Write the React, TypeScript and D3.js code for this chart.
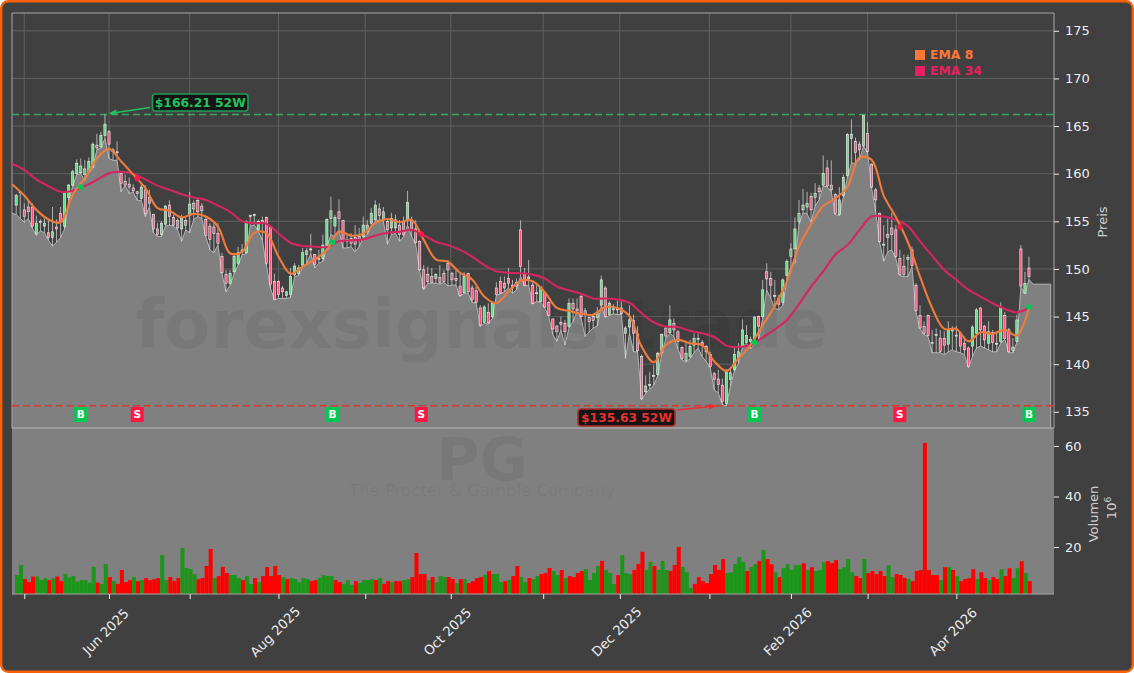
import { useEffect, useRef } from "react";
import * as d3 from "d3";

// daily bars (bar 0 = end of Apr 2025)
const opens = [
  156.7, 158.0, 156.2, 156.5, 156.5, 153.7, 154.9, 154.5, 153.8, 153.3,
  154.4, 155.8, 154.5, 157.5, 158.8, 160.0, 160.1, 159.9, 160.2, 160.7,
  163.0, 162.8, 164.0, 164.4, 162.5, 162.3, 160.0, 159.2, 158.9, 158.5,
  158.1, 157.4, 158.3, 157.5, 155.7, 154.2, 153.6, 154.7, 156.7, 155.4,
  155.1, 154.2, 155.1, 155.6, 156.9, 157.2, 156.6, 155.2, 154.5, 154.4,
  153.7, 151.3, 149.4, 148.5, 149.7, 150.6, 152.0, 151.7, 155.5, 155.6,
  154.1, 155.1, 155.4, 154.4, 148.7, 148.7, 148.0, 147.2, 147.3, 149.4,
  149.5, 150.4, 151.5, 152.0, 151.5, 151.1, 151.1, 152.4, 155.3, 154.5,
  156.0, 155.1, 153.1, 153.2, 153.3, 153.4, 153.4, 153.9, 154.8, 155.15,
  156.3, 155.15, 155.0, 154.3, 154.3, 154.6, 155.0, 155.2, 155.15, 154.2,
  152.9, 149.9, 149.4, 149.2, 149.0, 149.1, 149.5, 150.6, 149.55, 149.0,
  148.2, 147.5, 149.5, 148.0, 147.7, 145.9, 144.4, 145.45, 145.0, 148.0,
  148.7, 148.5, 149.0, 148.3, 148.6, 154.1, 149.55, 149.0, 148.3, 147.5,
  146.6, 147.5, 146.5, 144.75, 144.0, 144.4, 144.3, 143.95, 146.4, 145.8,
  147.1, 145.6, 144.9, 145.0, 144.9, 146.2, 148.0, 145.2, 145.7, 145.7,
  145.9, 143.25, 143.9, 144.6, 143.2, 140.8, 137.1, 137.8, 138.8, 138.9,
  141.2, 143.8, 143.3, 144.3, 143.4, 141.75, 140.4, 140.8, 142.0, 142.6,
  142.3, 141.85, 141.0, 139.0, 138.45, 137.8, 135.9, 138.4, 139.4, 140.6,
  141.9, 142.3, 142.4, 142.7, 145.0, 145.0, 149.7, 149.0, 147.1, 146.95,
  146.5, 149.3, 151.3, 152.1, 155.0, 156.2, 156.5, 157.6, 157.5, 158.5,
  158.8, 160.6, 158.8, 157.8, 155.7, 157.7, 159.8, 163.7, 163.4, 163.1,
  162.9, 164.2, 161.0, 158.3, 155.85, 152.6, 153.6, 154.3, 154.1, 151.1,
  150.25, 151.0, 152.0, 148.3, 145.1, 143.95, 145.1, 142.3, 143.0, 142.7,
  142.7, 142.1, 143.6, 143.0, 143.25, 142.2, 141.7, 141.9, 143.25, 145.9,
  144.0, 142.2, 143.3, 142.1, 142.4, 145.1, 143.6, 141.45, 142.4, 152.1,
  147.45, 150.1,
];
const closes = [
  157.7, 158.1, 155.5, 156.0, 154.5, 154.8, 155.0, 154.8, 153.3, 153.9,
  154.2, 154.9, 158.0, 158.8, 160.2, 161.1, 160.8, 160.5, 161.3, 163.1,
  162.7, 164.0, 165.2, 163.1, 162.3, 162.2, 159.0, 158.8, 158.6, 158.2,
  157.9, 158.6, 155.8, 156.9, 154.2, 153.6, 154.8, 156.6, 155.5, 154.6,
  154.3, 155.3, 154.6, 156.8, 156.3, 156.0, 156.1, 153.5, 153.1, 153.7,
  152.7, 149.6, 148.5, 149.5, 151.3, 151.7, 151.8, 155.0, 155.6, 155.7,
  155.0, 154.8, 150.6, 148.4, 146.8, 147.3, 147.6, 147.6, 149.2, 150.3,
  150.1, 151.7, 151.9, 152.1, 150.5, 151.0, 152.5, 155.2, 156.1, 155.4,
  155.3, 153.0, 152.9, 152.7, 152.6, 153.0, 154.6, 154.6, 155.85, 156.7,
  155.6, 156.0, 154.1, 155.3, 155.15, 153.6, 153.6, 157.0, 154.1, 152.8,
  149.9, 148.0, 148.7, 148.6, 149.4, 148.6, 148.7, 149.9, 148.85, 148.8,
  147.2, 149.2, 147.6, 146.8, 146.5, 144.1, 146.0, 144.35, 146.4, 147.3,
  147.45, 148.0, 148.5, 148.0, 148.2, 150.25, 148.3, 149.15, 146.4, 147.4,
  148.1, 146.0, 145.1, 143.7, 143.4, 144.2, 143.4, 146.4, 145.8, 145.6,
  145.0, 145.2, 144.5, 144.6, 145.4, 148.85, 145.0, 146.4, 146.0, 145.8,
  145.3, 143.8, 144.65, 143.25, 141.4, 136.4, 137.7, 137.85, 138.7, 141.15,
  143.1, 142.95, 144.65, 143.6, 142.4, 140.6, 141.15, 141.85, 142.7, 142.7,
  142.0, 141.3, 139.75, 138.4, 137.85, 136.1, 139.2, 139.1, 141.0, 141.3,
  143.6, 143.0, 142.6, 144.95, 144.0, 147.8, 148.95, 148.3, 147.2, 146.3,
  148.85, 150.8, 152.1, 154.2, 155.8, 156.7, 156.9, 156.2, 157.9, 158.1,
  160.0, 158.7, 158.3, 155.8, 157.25, 159.6, 164.1, 164.15, 162.25, 162.5,
  166.1, 162.3, 158.6, 157.25, 152.9, 152.5, 153.3, 153.6, 151.3, 149.4,
  149.4, 151.2, 150.35, 145.65, 143.8, 143.25, 143.0, 142.2, 143.1, 141.35,
  142.0, 143.6, 143.5, 143.05, 141.9, 141.5, 139.75, 143.9, 145.7, 143.6,
  142.55, 143.4, 142.3, 142.2, 145.9, 142.7, 141.3, 141.8, 144.65, 148.2,
  148.45, 149.2,
];
const highs = [
  157.9, 158.2, 156.9, 157.2, 156.9, 155.6, 155.2, 155.3, 155.2, 156.5,
  155.2, 156.5, 158.1, 158.9, 160.4, 161.5, 161.6, 161.4, 161.7, 163.3,
  164.2, 164.4, 166.21, 164.6, 162.7, 163.4, 160.05, 159.9, 159.6, 158.9,
  158.2, 158.9, 158.8, 158.3, 155.8, 154.8, 155.0, 156.7, 157.2, 155.7,
  155.3, 155.7, 155.3, 158.1, 157.2, 157.4, 156.9, 155.5, 154.8, 154.8,
  154.8, 151.7, 149.9, 149.9, 151.7, 152.3, 152.6, 155.1, 155.7, 155.8,
  155.2, 155.5, 155.5, 154.6, 149.5, 148.8, 148.2, 147.7, 150.1, 150.6,
  150.4, 152.2, 152.2, 153.7, 151.5, 152.0, 153.6, 155.3, 157.6, 155.7,
  157.3, 155.15, 153.6, 153.75, 154.6, 154.3, 155.5, 155.15, 156.4, 157.2,
  156.9, 156.5, 155.15, 155.9, 155.7, 155.15, 155.5, 158.2, 155.5, 155.1,
  153.0, 150.4, 150.25, 150.1, 149.55, 150.4, 149.9, 150.95, 149.7, 150.1,
  149.55, 149.7, 149.6, 148.3, 148.15, 146.2, 146.2, 146.4, 146.6, 148.6,
  149.2, 149.2, 150.1, 148.85, 149.0, 155.1, 150.1, 150.95, 148.7, 148.3,
  148.2, 147.6, 146.6, 144.8, 144.1, 145.0, 144.65, 146.9, 146.9, 146.9,
  147.3, 145.9, 145.0, 145.3, 146.0, 149.3, 148.2, 146.6, 146.3, 146.7,
  146.6, 144.0, 146.2, 145.2, 144.0, 141.0, 138.8, 139.2, 139.9, 141.3,
  143.25, 144.0, 146.2, 144.8, 143.6, 141.85, 142.2, 142.55, 143.25, 143.25,
  142.55, 142.0, 141.3, 139.2, 139.4, 138.5, 139.5, 139.5, 141.85, 142.2,
  144.7, 144.1, 142.9, 145.0, 145.1, 148.85, 150.6, 149.7, 148.85, 147.3,
  149.0, 151.0, 152.7, 155.4, 157.25, 158.4, 158.1, 158.0, 159.0, 158.8,
  161.9, 161.45, 161.4, 157.95, 158.6, 159.9, 164.25, 165.7, 163.8, 163.4,
  166.1, 165.4, 161.1, 158.5, 155.9, 154.6, 155.3, 155.9, 154.6, 152.0,
  151.5, 151.5, 152.35, 148.5, 146.2, 144.5, 145.2, 143.6, 143.75, 143.6,
  143.45, 144.5, 144.0, 144.0, 143.45, 142.9, 141.85, 144.1, 145.9, 146.0,
  144.1, 144.5, 143.6, 143.4, 146.5, 145.5, 143.8, 142.75, 145.2, 152.5,
  149.7, 151.3,
];
const lows = [
  155.7, 155.3, 154.9, 155.3, 154.3, 153.5, 154.0, 153.8, 153.0, 152.4,
  152.8, 153.3, 154.2, 157.2, 158.7, 159.9, 160.0, 159.3, 160.1, 160.6,
  162.5, 162.7, 163.7, 161.6, 161.4, 161.4, 158.1, 158.8, 157.9, 158.1,
  157.2, 157.2, 155.5, 156.5, 153.8, 153.4, 153.4, 154.5, 154.6, 154.5,
  154.1, 152.9, 154.1, 153.8, 155.2, 155.5, 155.3, 153.4, 152.0, 151.7,
  152.5, 149.5, 147.6, 148.3, 149.5, 150.4, 151.5, 151.6, 154.5, 154.6,
  154.0, 153.0, 150.4, 148.0, 146.75, 146.9, 146.9, 146.9, 147.0, 149.2,
  149.3, 150.2, 150.6, 151.6, 150.1, 150.6, 150.8, 152.35, 153.6, 153.4,
  154.1, 152.2, 152.2, 152.35, 151.8, 152.35, 153.3, 153.6, 154.45, 155.0,
  155.15, 155.0, 152.6, 153.6, 153.75, 152.9, 153.4, 154.6, 153.4, 152.6,
  149.8, 147.8, 148.5, 148.5, 148.5, 148.4, 148.6, 148.2, 148.3, 148.3,
  147.1, 147.45, 147.45, 146.5, 146.4, 143.95, 144.3, 144.2, 144.8, 147.2,
  147.4, 147.6, 148.0, 147.45, 147.8, 149.2, 148.2, 148.3, 146.3, 146.6,
  146.5, 145.9, 145.0, 143.1, 142.4, 143.6, 142.0, 143.8, 144.5, 145.5,
  144.8, 142.9, 143.4, 143.8, 144.0, 146.1, 144.9, 145.1, 145.3, 145.2,
  145.2, 140.6, 143.25, 141.3, 141.3, 136.25, 136.95, 137.4, 137.8, 138.8,
  141.1, 142.7, 143.25, 142.9, 141.6, 140.45, 140.2, 140.6, 141.2, 141.7,
  140.8, 140.3, 139.6, 137.3, 137.0, 135.75, 135.63, 137.7, 139.3, 140.1,
  141.85, 142.2, 141.6, 142.2, 142.55, 144.8, 147.8, 146.9, 145.9, 145.7,
  146.2, 148.8, 150.25, 150.6, 154.7, 155.9, 155.8, 154.9, 156.6, 157.3,
  158.7, 158.6, 158.1, 155.7, 155.6, 157.5, 159.6, 161.1, 161.1, 161.5,
  162.9, 162.2, 158.5, 156.0, 152.75, 150.8, 151.8, 152.0, 151.1, 149.3,
  149.2, 149.2, 150.2, 145.5, 143.7, 143.1, 142.9, 141.2, 141.2, 141.2,
  141.0, 141.3, 141.5, 141.3, 141.2, 141.0, 139.65, 140.8, 141.7, 141.9,
  141.7, 141.5, 141.3, 141.3, 142.2, 142.6, 141.2, 141.2, 142.3, 148.1,
  147.4, 148.9,
];

// in millions
const volumes = [
  8.9, 12.9, 7.3, 6.1, 8.3, 8.3, 6.9, 7.6, 6.9, 7.6,
  8.3, 6.5, 9.3, 7.9, 8.5, 6.3, 6.9, 6.9, 5.9, 12.1,
  5.9, 5.4, 13.3, 8.1, 6.5, 5.4, 10.9, 6.1, 6.9, 8.1,
  6.5, 6.9, 7.7, 6.9, 7.3, 7.7, 16.8, 6.9, 8.1, 6.5,
  7.7, 19.6, 11.7, 11.3, 9.3, 7.3, 7.7, 12.5, 19.2, 7.7,
  8.5, 12.1, 9.7, 8.9, 8.9, 7.7, 6.9, 8.5, 5.4, 7.7,
  6.1, 8.5, 12.1, 8.5, 12.5, 8.9, 8.1, 7.3, 7.7, 7.3,
  6.1, 7.7, 7.3, 6.5, 6.9, 7.7, 8.9, 8.5, 8.5, 6.9,
  6.1, 5.4, 6.9, 5.0, 6.5, 5.7, 6.9, 6.9, 7.3, 6.9,
  7.7, 5.4, 6.5, 6.1, 6.5, 6.5, 6.9, 7.2, 8.1, 17.6,
  9.3, 9.3, 6.9, 8.1, 6.1, 8.5, 8.1, 8.1, 7.3, 5.7,
  7.3, 7.3, 5.7, 6.5, 7.7, 8.1, 8.9, 10.5, 9.3, 9.3,
  6.1, 6.5, 6.9, 8.5, 12.5, 8.1, 6.1, 7.7, 7.3, 8.5,
  9.3, 9.7, 11.7, 10.5, 8.9, 10.9, 7.7, 8.5, 8.1, 9.7,
  10.5, 11.3, 6.9, 9.7, 12.5, 14.5, 10.9, 9.7, 5.4, 8.9,
  16.8, 9.7, 9.2, 10.9, 13.3, 18.1, 10.9, 14.1, 12.5, 10.9,
  14.5, 10.9, 10.5, 12.9, 20.0, 12.1, 10.0, 3.8, 5.4, 8.1,
  6.5, 5.7, 9.3, 12.9, 10.9, 15.2, 9.7, 10.0, 13.3, 16.0,
  14.1, 10.5, 12.1, 13.3, 14.5, 18.8, 15.2, 13.2, 10.0, 8.1,
  11.6, 13.2, 10.9, 12.8, 12.8, 13.6, 10.9, 12.0, 10.5, 10.9,
  14.0, 14.4, 13.6, 14.8, 11.2, 12.0, 15.2, 10.0, 8.5, 7.7,
  15.2, 9.7, 10.5, 9.3, 10.5, 8.5, 12.8, 8.1, 9.3, 8.9,
  7.7, 7.3, 6.5, 10.5, 10.9, 61.2, 10.9, 8.9, 8.9, 6.9,
  12.0, 12.0, 10.9, 8.5, 6.5, 7.3, 7.7, 11.2, 7.3, 10.0,
  7.7, 6.9, 8.1, 7.3, 11.2, 8.5, 11.6, 7.7, 11.6, 14.4,
  9.7, 6.5,
];
const volumeSides = [
  "GGRRRGGGRG", "RRGGGGGGGG", "RGGRGRRRRG", "RGRRRRGGRR", "RGGGGRRRRG",
  "RRRGGGRGGR", "GRRRRRGRGG", "GGGRRGGGGR", "RGGGRGGGGR", "GRRGRRGGRR",
  "RRGRGGGRRG", "RGRRRRGRGG", "GRGRRGGRGG", "RRRGGRGRRR", "RGGGGRGGGR",
  "GGGRRRGGRG", "GGRRRGGGRR", "RRRRRRGGGG", "GRGGRGRRGR", "GGGGGRGRGG",
  "GRRRGGGGRR", "GRRRRRGGRR", "RGRRRRRRRG", "RGRGRRRRGR", "RGRRGRRGGR",
  "GR",
].join("");

// EMAs read every third bar, starting one bar left of the first candle
const emaStart = -1;
const emaStep = 3;
const ema8 = [
  158.9, 157.7, 156.2, 155.2, 154.9, 157.8, 159.5, 161.6, 162.6, 161.3,
  159.9, 158.5, 156.4, 156.1, 155.4, 155.8, 155.5, 154.45, 151.65, 151.8,
  153.8, 153.75, 151.3, 149.5, 150.25, 151.0, 152.0, 153.9, 153.5, 153.7,
  154.8, 155.25, 154.9, 155.15, 153.05, 151.0, 150.75, 149.6, 148.9, 147.1,
  146.4, 147.6, 148.75, 148.7, 147.55, 145.9, 145.6, 145.3, 145.2, 146.0,
  145.9, 145.05, 141.85, 140.2, 142.0, 142.55, 142.2, 142.0, 140.3, 139.3,
  140.6, 142.0, 144.1, 146.1, 148.7, 152.35, 154.7, 156.6, 157.4, 158.6,
  161.7, 161.45, 157.7, 155.45, 152.8, 149.2, 145.9, 143.7, 143.7, 142.4,
  143.35, 143.2, 143.6, 143.0, 145.9,
];
const ema34 = [
  161.05, 160.4, 159.4, 158.7, 158.1, 158.2, 158.7, 159.35, 160.05, 160.2,
  160.0, 159.4, 158.75, 158.3, 157.85, 157.5, 157.25, 156.65, 156.0, 155.0,
  154.8, 154.75, 153.75, 152.75, 152.4, 152.35, 152.3, 152.9, 153.0, 153.1,
  153.5, 153.8, 153.9, 154.1, 153.55, 152.85, 152.5, 152.0, 151.3, 150.4,
  149.75, 149.6, 149.55, 149.4, 149.0, 148.15, 147.75, 147.4, 146.9, 146.9,
  146.8, 146.45, 145.35, 144.4, 143.95, 143.9, 143.5, 143.25, 142.85, 141.95,
  141.8, 142.05, 142.8, 143.65, 144.65, 146.3, 148.15, 149.75, 151.5, 152.5,
  154.1, 155.5, 155.5, 155.15, 154.5, 152.9, 151.4, 149.9, 148.85, 147.8,
  147.1, 146.4, 145.8, 145.45, 145.9,
];

const signalBars = [16, 30, 78.4, 100.4, 183, 219, 251];
const signalKinds = ["B", "S", "B", "S", "B", "S", "B"];
const signalPrices = [158.6, 159.5, 152.8, 153.65, 142.3, 154.4, 146.0];

const priceTicks = [135, 140, 145, 150, 155, 160, 165, 170, 175];
const volumeTicks = [20, 40, 60];
const monthBars = [2, 23, 43, 65, 86.5, 107.7, 130.6, 149.6, 171.8, 192, 211, 233];
const monthLabels = ["", "Jun 2025", "", "Aug 2025", "", "Oct 2025", "", "Dec 2025", "", "Feb 2026", "", "Apr 2026"];

const high52 = 166.21;
const low52 = 135.63;
// flat stretch of the area past the last candle
const areaTailPrice = 148.4;
const areaTailBar = 256.4;

const GREEN = "#00c853";
const RED = "#ff1744";
const FONT = "'DejaVu Sans', sans-serif";

export default function App() {
  const ref = useRef<SVGSVGElement>(null);

  useEffect(() => {
    const svg = d3.select(ref.current);
    svg.selectAll("*").remove();

    const left = 12;
    const right = 1054;
    const top = 13;
    const mid = 428;
    const bottom = 594;

    const x = d3.scaleLinear().domain([-1.04, 257.2]).range([left, right]);
    const y = d3.scaleLinear().domain([133.3, 176.87]).range([mid, top]);
    const yv = d3.scaleLinear().domain([1.4, 67.1]).range([bottom, mid]);

    // page frame
    svg.append("rect").attr("width", 1134).attr("height", 673).attr("fill", "#fff");
    svg.append("rect")
      .attr("x", 1.2).attr("y", 1.2).attr("width", 1131.6).attr("height", 670.6).attr("rx", 7)
      .attr("fill", "#404040").attr("stroke", "#f96008").attr("stroke-width", 2.4);

    // grid
    const grid = svg.append("g").attr("stroke", "#606060").attr("stroke-width", 1);
    priceTicks.forEach((t) => {
      grid.append("line").attr("x1", left).attr("x2", right).attr("y1", y(t)).attr("y2", y(t));
    });
    monthBars.forEach((m) => {
      grid.append("line").attr("x1", x(m)).attr("x2", x(m)).attr("y1", top).attr("y2", mid);
    });

    // low area
    const areaPoints: [number, number][] = lows.map((l, i) => [i, l]);
    areaPoints.unshift([-1.04, lows[0] + 0.15]);
    areaPoints.push([252, areaTailPrice]);
    areaPoints.push([areaTailBar, areaTailPrice]);
    const area = d3.area<[number, number]>().x((d) => x(d[0])).y0(mid).y1((d) => y(d[1]));
    svg.append("path").attr("d", area(areaPoints)).attr("fill", "#808080");
    const edge = d3.line<[number, number]>().x((d) => x(d[0])).y((d) => y(d[1]));
    svg.append("path")
      .attr("d", edge([...areaPoints, [areaTailBar, 133.3]]))
      .attr("fill", "none").attr("stroke", "#b4b4b4").attr("stroke-width", 1);

    // volume panel
    svg.append("rect")
      .attr("x", left).attr("y", mid).attr("width", right - left).attr("height", bottom - mid)
      .attr("fill", "#808080");

    // watermarks
    const wm = svg.append("g").attr("text-anchor", "middle").attr("font-family", FONT);
    wm.append("text").attr("x", 481.5).attr("y", 348).attr("font-size", 67).attr("font-weight", "bold")
      .attr("fill", "#000").attr("fill-opacity", 0.06).text("forexsignals.trade");
    wm.append("text").attr("x", 482).attr("y", 480).attr("font-size", 59).attr("font-weight", "bold")
      .attr("fill", "#000").attr("fill-opacity", 0.06).text("PG");
    wm.append("text").attr("x", 482).attr("y", 496).attr("font-size", 16.5)
      .attr("fill", "#000").attr("fill-opacity", 0.06).text("The Procter & Gamble Company");

    // volume bars
    const barW = 4.05;
    svg.append("g").selectAll("rect").data(volumes).enter().append("rect")
      .attr("x", (_, i) => x(i) - barW / 2 + 0.8)
      .attr("y", (d) => yv(d))
      .attr("width", barW)
      .attr("height", (d) => bottom - yv(d))
      .attr("fill", (_, i) => (volumeSides[i] === "G" ? "#1c951a" : "#ff0000"));

    // frame lines
    const frame = svg.append("g").attr("stroke", "#a6a6a6").attr("fill", "none");
    frame.append("path").attr("d", `M${left},${mid}V${top}H${right}V${mid}`);
    frame.append("line").attr("x1", left).attr("x2", right).attr("y1", mid).attr("y2", mid)
      .attr("stroke-width", 1.6);
    frame.append("line").attr("x1", left).attr("x2", right).attr("y1", bottom).attr("y2", bottom);

    // 52 week lines
    svg.append("line").attr("x1", left).attr("x2", right).attr("y1", y(high52)).attr("y2", y(high52))
      .attr("stroke", "#3aa660").attr("stroke-width", 1.5).attr("stroke-dasharray", "7,4");
    svg.append("line").attr("x1", left).attr("x2", right).attr("y1", y(low52)).attr("y2", y(low52))
      .attr("stroke", "#d8392f").attr("stroke-width", 1.6).attr("stroke-dasharray", "7,4");

    // candles
    const candles = svg.append("g");
    opens.forEach((o, i) => {
      const c = closes[i];
      const up = c >= o;
      const big = Math.abs(c - o) > 0.9;
      candles.append("line")
        .attr("x1", x(i)).attr("x2", x(i)).attr("y1", y(highs[i])).attr("y2", y(lows[i]))
        .attr("stroke", "#e6e6e6").attr("stroke-width", 0.8).attr("stroke-opacity", 0.85);
      candles.append("rect")
        .attr("x", x(i) - 1.1).attr("width", 2.2)
        .attr("y", y(Math.max(o, c)))
        .attr("height", Math.max(y(Math.min(o, c)) - y(Math.max(o, c)), 1))
        .attr("fill", up ? "#62dc82" : "#ff4f80")
        .attr("fill-opacity", big ? 0.95 : 0.6)
        .attr("stroke", "#f2f2f2").attr("stroke-width", 0.6);
    });

    // EMA lines
    const emaLine = d3.line<number>()
      .x((_, i) => x(emaStart + i * emaStep))
      .y((d) => y(d))
      .curve(d3.curveCatmullRom.alpha(0.5));
    svg.append("path").attr("d", emaLine(ema34)).attr("fill", "none")
      .attr("stroke", "#d4265f").attr("stroke-width", 2.1).attr("stroke-linejoin", "round");
    svg.append("path").attr("d", emaLine(ema8)).attr("fill", "none")
      .attr("stroke", "#ef7b3c").attr("stroke-width", 2.1).attr("stroke-linejoin", "round");

    // signals
    signalBars.forEach((b, i) => {
      const col = signalKinds[i] === "B" ? GREEN : RED;
      svg.append("circle").attr("cx", x(b)).attr("cy", y(signalPrices[i])).attr("r", 2.8).attr("fill", col);
      svg.append("rect").attr("x", x(b) - 6.5).attr("y", 407).attr("width", 13).attr("height", 15)
        .attr("fill", col);
      svg.append("text").attr("x", x(b)).attr("y", 418.2).attr("text-anchor", "middle")
        .attr("font-family", FONT).attr("font-size", 10.5).attr("font-weight", "bold").attr("fill", "#fff")
        .text(signalKinds[i]);
    });

    // 52 week annotations
    const note = (
      bx: number, by: number, bw: number, bh: number, label: string, col: string, edgeCol: string,
      x1: number, y1: number, x2: number, y2: number,
    ) => {
      const dx = x2 - x1;
      const dy = y2 - y1;
      const len = Math.hypot(dx, dy);
      const ux = dx / len;
      const uy = dy / len;
      svg.append("line").attr("x1", x1).attr("y1", y1)
        .attr("x2", x2 - ux * 6).attr("y2", y2 - uy * 6)
        .attr("stroke", col).attr("stroke-width", 1.6);
      svg.append("path")
        .attr("d", `M${x2},${y2}L${x2 - ux * 8 - uy * 3},${y2 - uy * 8 + ux * 3}L${x2 - ux * 8 + uy * 3},${y2 - uy * 8 - ux * 3}Z`)
        .attr("fill", col);
      svg.append("rect").attr("x", bx).attr("y", by).attr("width", bw).attr("height", bh).attr("rx", 3)
        .attr("fill", "#141414").attr("stroke", edgeCol).attr("stroke-width", 1.6);
      svg.append("text").attr("x", bx + bw / 2).attr("y", by + bh / 2 + 4.4).attr("text-anchor", "middle")
        .attr("font-family", FONT).attr("font-size", 12.3).attr("font-weight", "bold").attr("fill", col)
        .text(label);
    };
    note(152.5, 94, 95.5, 17, `$${high52} 52W`, "#22c35e", "#1f9d55", 150, 107.5, x(22.9), y(high52) - 1);
    note(578, 409, 97, 17, `$${low52} 52W`, "#e8302f", "#b52a2a", 677, 410, 717, y(low52));

    // axes
    const styleAxis = (g: d3.Selection<SVGGElement, unknown, null, undefined>) => {
      g.select(".domain").remove();
      g.selectAll("line").attr("stroke", "#ececec");
      g.selectAll("text").attr("fill", "#ececec").attr("font-family", FONT).attr("font-size", 13);
    };
    svg.append("g").attr("transform", `translate(${right},0)`)
      .call(d3.axisRight(y).tickValues(priceTicks).tickSize(5).tickPadding(6))
      .call(styleAxis);
    svg.append("g").attr("transform", `translate(${right},0)`)
      .call(d3.axisRight(yv).tickValues(volumeTicks).tickSize(5).tickPadding(6))
      .call(styleAxis);
    const xAxis = svg.append("g").attr("transform", `translate(0,${bottom})`)
      .call(d3.axisBottom(x).tickValues(monthBars).tickSize(5)
        .tickFormat((_, i) => monthLabels[i]))
      .call(styleAxis);
    xAxis.selectAll("text")
      .attr("text-anchor", "middle")
      .attr("dy", 0)
      .attr("y", 0)
      .attr("font-size", 13.3)
      .attr("transform", "translate(-0.5,41) rotate(-45)");

    // axis titles
    const title = (tx: number, ty: number, label: string) =>
      svg.append("text").attr("transform", `translate(${tx},${ty}) rotate(-90)`)
        .attr("text-anchor", "middle").attr("font-family", FONT).attr("font-size", 13)
        .attr("fill", "#cfcfcf").text(label);
    title(1107, 222, "Preis");
    title(1098, 514, "Volumen");
    const exp = title(1116, 508, "10");
    exp.append("tspan").attr("dy", -5).attr("font-size", 9).text("6");

    // legend
    const legend = [["EMA 8", "#ff7733"], ["EMA 34", "#e91e63"]];
    legend.forEach(([label, col], i) => {
      const ly = 54.5 + i * 16;
      svg.append("rect").attr("x", 915).attr("y", ly - 4.5).attr("width", 10).attr("height", 10).attr("fill", col);
      svg.append("text").attr("x", 930).attr("y", ly + 4).attr("font-family", FONT)
        .attr("font-size", 12.4).attr("font-weight", "bold").attr("fill", col).text(label);
    });
  }, []);

  return (
    <svg
      ref={ref}
      width={1134}
      height={673}
      style={{ position: "absolute", top: 0, left: 0, display: "block" }}
    />
  );
}
